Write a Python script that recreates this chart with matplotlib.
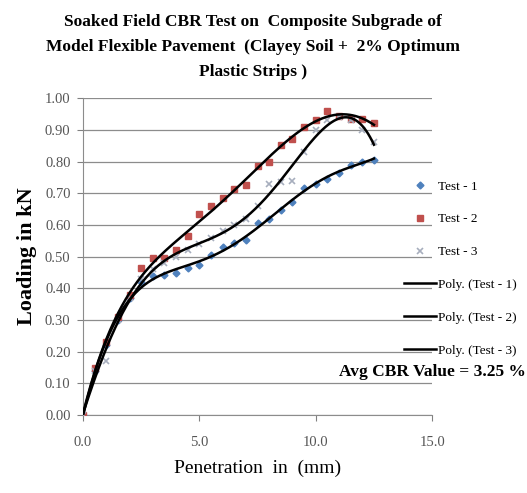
import numpy as np
import matplotlib

matplotlib.use("Agg")
import matplotlib.pyplot as plt

# penetration (mm) and loading (kN)
penetration = [0.0, 0.5, 1.0, 1.5, 2.0, 2.5, 3.0, 3.5, 4.0, 4.5, 5.0, 5.5, 6.0,
               6.5, 7.0, 7.5, 8.0, 8.5, 9.0, 9.5, 10.0, 10.5, 11.0, 11.5, 12.0, 12.5]
test_1 = [0.00, 0.14, 0.22, 0.30, 0.37, 0.42, 0.44, 0.443, 0.447, 0.465, 0.475, 0.505, 0.53,
          0.542, 0.553, 0.605, 0.62, 0.647, 0.672, 0.715, 0.73, 0.745, 0.765, 0.79, 0.80, 0.805]
test_2 = [0.00, 0.15, 0.23, 0.31, 0.38, 0.465, 0.495, 0.497, 0.52, 0.565, 0.633, 0.66, 0.685,
          0.712, 0.725, 0.785, 0.80, 0.852, 0.872, 0.91, 0.93, 0.96, 0.945, 0.933, 0.935, 0.92]
test_3 = [0.00, 0.14, 0.17, 0.30, 0.37, 0.43, 0.46, 0.48, 0.50, 0.52, 0.54, 0.56, 0.58,
          0.60, 0.62, 0.66, 0.73, 0.735, 0.74, 0.83, 0.90, 0.93, 0.94, 0.93, 0.90, 0.86]

labels = ["Test - 1", "Test - 2", "Test - 3"]
title = ("Soaked Field CBR Test on  Composite Subgrade of\n"
         "Model Flexible Pavement  (Clayey Soil +  2% Optimum\n"
         "Plastic Strips )")
avg_text = "Avg CBR Value = 3.25 %"

plt.rcParams["font.family"] = ["Liberation Serif", "DejaVu Serif"]

fig = plt.figure(figsize=(5.27, 4.93), dpi=100)
ax = fig.add_axes([0.1575, 0.158, 0.6625, 0.643])

styles = [
    dict(marker="D", color="#4F81BD", markersize=3.5, linestyle="none"),
    dict(marker="s", color="#C0504D", markersize=5, linestyle="none"),
    dict(marker="x", color="#A7AEBD", markersize=5, linestyle="none", markeredgewidth=1.2),
]

x = np.array(penetration)
series = [test_1, test_2, test_3]
point_handles = []
for values, style, label in zip(series, styles, labels):
    (h,) = ax.plot(x, values, label=label, zorder=3, **style)
    point_handles.append(h)

xs = np.linspace(0, 12.5, 300)
fit_handles = []
for values, label in zip(series, labels):
    coef = np.polyfit(x, values, 6)
    (h,) = ax.plot(xs, np.polyval(coef, xs), color="black", linewidth=1.8,
                   label=f"Poly. ({label})", zorder=4)
    fit_handles.append(h)

ax.set_xlim(0, 15)
ax.set_ylim(0, 1.0)
ax.set_xticks([0, 5, 10, 15])
ax.set_xticklabels(["0.0", "5.0", "10.0", "15.0"])
ax.set_yticks(np.arange(0, 1.01, 0.1))
ax.set_yticklabels([f"{v:.2f}" for v in np.arange(0, 1.01, 0.1)])
ax.tick_params(axis="both", labelsize=10.5, colors="#808080", labelcolor="#555555",
               length=4, width=0.8)
ax.tick_params(axis="x", pad=11)
ax.tick_params(axis="y", pad=5)
ax.grid(axis="y", color="#8C8C8C", linewidth=0.9)
ax.set_axisbelow(True)
for side in ("top", "right"):
    ax.spines[side].set_visible(False)
for side in ("left", "bottom"):
    ax.spines[side].set_color("#8C8C8C")

ax.set_xlabel("Penetration  in  (mm)", fontsize=14, labelpad=8)
ax.set_ylabel("Loading in kN", fontsize=16, fontweight="bold", labelpad=6)

fig.text(0.48, 0.972, title, ha="center", va="top", fontsize=12.5,
         fontweight="bold", linespacing=1.75)

ax.legend(point_handles + fit_handles, labels + [h.get_label() for h in fit_handles],
          loc="upper left", bbox_to_anchor=(0.905, 0.757), frameon=False,
          fontsize=9.5, handlelength=2.4, handletextpad=0.15, labelspacing=1.56,
          borderaxespad=0)

fig.text(0.998, 0.246, avg_text, ha="right", va="center", fontsize=12.5,
         fontweight="bold")

fig.savefig("out.png", dpi=100)
